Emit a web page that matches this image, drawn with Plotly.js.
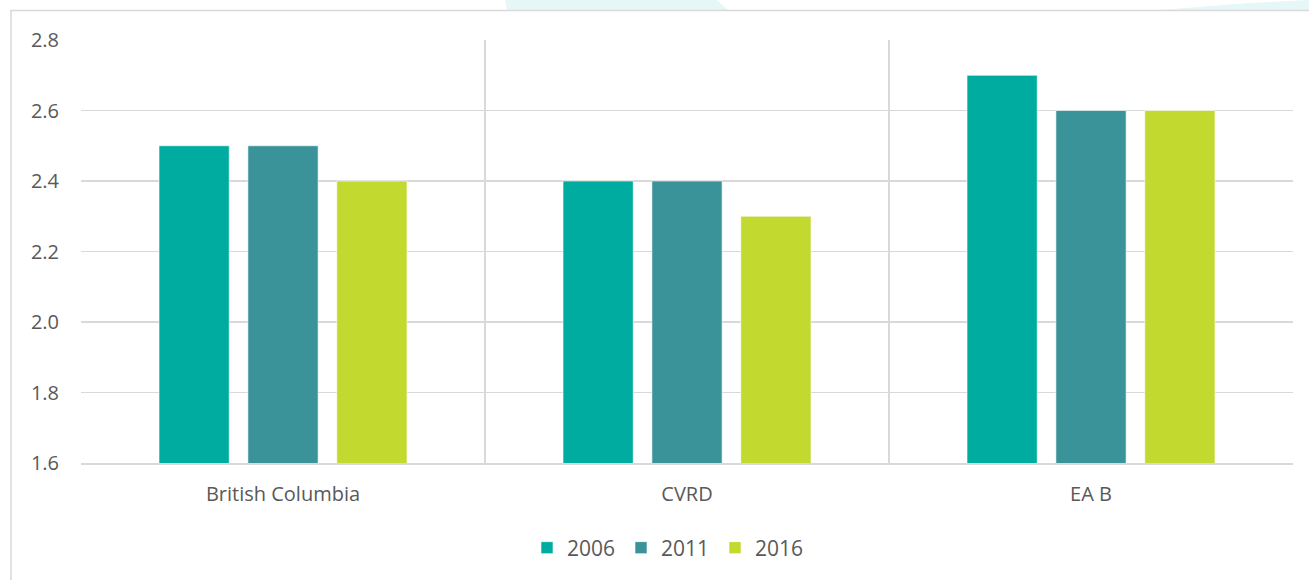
<!DOCTYPE html>
<html>
<head>
<meta charset="utf-8">
<script src="https://cdn.plot.ly/plotly-3.0.1.min.js"></script>
<style>html,body{margin:0;padding:0;background:#fff;}#chart{width:1309px;height:580px;}</style>
</head>
<body>
<div id="chart"></div>
<script>
const categories = ["British Columbia", "CVRD", "EA B"];
const seriesNames = ["2006", "2011", "2016"];
const values2006 = [2.5, 2.4, 2.7];
const values2011 = [2.5, 2.4, 2.6];
const values2016 = [2.4, 2.3, 2.6];
const yTicks = [1.6, 1.8, 2.0, 2.2, 2.4, 2.6, 2.8];
const colors = ["#00ACA0", "#3A9399", "#C2D92F"];

const allValues = [values2006, values2011, values2016];
const traces = allValues.map((vals, i) => ({
  type: "bar",
  name: seriesNames[i],
  x: categories,
  y: vals,
  marker: {color: colors[i], line: {color: "rgba(255,255,255,0.6)", width: 1}},
  hoverinfo: "x+y"
}));

const W = 1309, H = 580, L = 81, R = 16, T = 40, B = 117;
const pw = W - L - R, ph = H - T - B;
const px = x => (x - L) / pw;
const py = y => 1 - (y - T) / ph;

const layout = {
  width: W, height: H,
  margin: {l: L, r: R, t: T, b: B},
  paper_bgcolor: "#ffffff",
  plot_bgcolor: "#ffffff",
  font: {family: "Open Sans, Liberation Sans, sans-serif", color: "#595959", size: 20},
  barmode: "group",
  bargap: 0.34,
  bargroupgap: 0.21,
  showlegend: true,
  legend: {orientation: "h", x: px(668), xanchor: "center", y: py(548), yanchor: "middle",
           font: {size: 21, color: "#595959"}, itemwidth: 30, traceorder: "normal",
           entrywidth: 49, entrywidthmode: "pixels"},
  xaxis: {
    type: "category",
    tickson: "boundaries",
    showgrid: true, gridcolor: "#d9d9d9", gridwidth: 1.5,
    ticks: "", showline: true, linecolor: "#d9d9d9", linewidth: 2,
    tickfont: {size: 20, color: "#595959"},
    ticklabelstandoff: 12,
    fixedrange: true
  },
  yaxis: {
    range: [1.6, 2.8],
    tickvals: yTicks,
    ticktext: yTicks.map(v => v.toFixed(1)),
    showgrid: true, gridcolor: "#d9d9d9", gridwidth: 1.5,
    zeroline: false, showline: false, ticks: "",
    tickfont: {size: 20, color: "#595959"},
    ticklabelstandoff: 21,
    fixedrange: true
  },
  shapes: [
    {type: "path", xref: "paper", yref: "paper", layer: "below",
     path: `M ${px(505)} ${py(0)} L ${px(717)} ${py(0)} L ${px(728)} ${py(10)} L ${px(507)} ${py(10)} Z`,
     fillcolor: "#e6f7f7", line: {width: 0}},
    {type: "path", xref: "paper", yref: "paper", layer: "below",
     path: `M ${px(1309)} ${py(0)} L ${px(1309)} ${py(10)} L ${px(1160)} ${py(10)} L ${px(1250)} ${py(3)} Z`,
     fillcolor: "#e6f7f7", line: {width: 0}},
    {type: "rect", xref: "paper", yref: "paper", layer: "below",
     x0: px(11), x1: px(1315), y0: py(590), y1: py(10.5),
     fillcolor: "rgba(0,0,0,0)", line: {color: "#d9d9d9", width: 1.5}}
  ]
};

Plotly.newPlot("chart", traces, layout, {displayModeBar: false, staticPlot: true});
</script>
</body>
</html>
